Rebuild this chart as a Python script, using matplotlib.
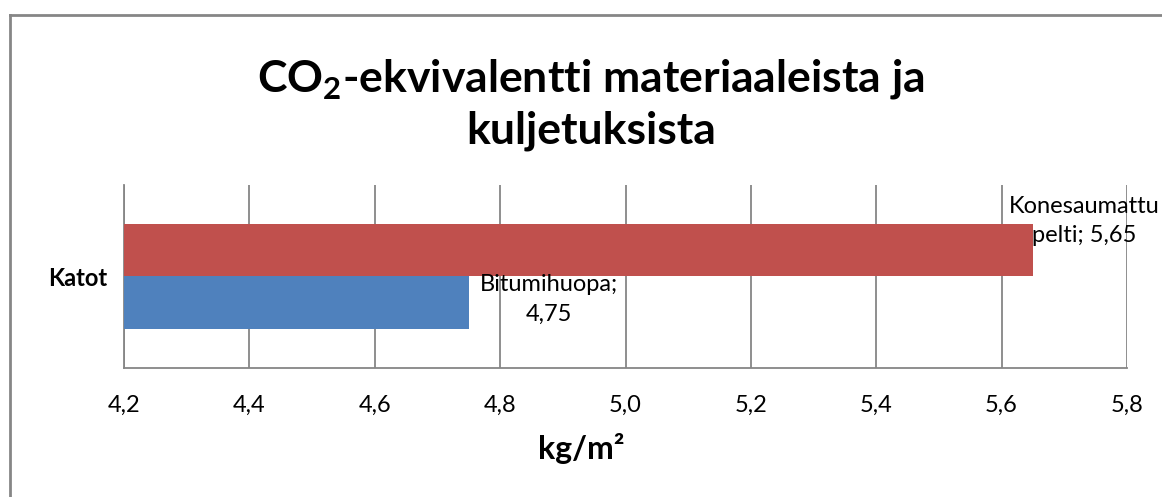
import matplotlib.pyplot as plt
from matplotlib.lines import Line2D

# data
category = "Katot"
series_names = ["Bitumihuopa", "Konesaumattu pelti"]
series_values = [4.75, 5.65]
series_colors = ["#4F81BD", "#C0504D"]
xticks = [4.2, 4.4, 4.6, 4.8, 5.0, 5.2, 5.4, 5.6, 5.8]

plt.rcParams['font.family'] = ['Lato', 'DejaVu Sans']
plt.rcParams['mathtext.fontset'] = 'custom'
plt.rcParams['mathtext.rm'] = 'Lato'
plt.rcParams['mathtext.bf'] = 'Lato:bold'

W, H = 1162, 497
fig = plt.figure(figsize=(W / 100, H / 100), dpi=100)
ax = fig.add_axes([124 / W, 1 - 368 / H, (1127 - 124) / W, (368 - 185) / H])

bar_h = 0.286
offsets = [-bar_h / 2, bar_h / 2]  # blue below, red above
for name, val, col, off in zip(series_names, series_values, series_colors, offsets):
    ax.barh(off, val - 4.2, left=4.2, height=bar_h, color=col, zorder=3)

# data labels
ax.annotate("Bitumihuopa;\n4,75", xy=(series_values[0], offsets[0]),
            xytext=(58, 2.5), textcoords="offset points", ha="center", va="center",
            fontsize=17, linespacing=1.5, zorder=4)
ax.annotate("Konesaumattu\npelti; 5,65", xy=(series_values[1], offsets[1]),
            xytext=(37, 21), textcoords="offset points", ha="center", va="center",
            fontsize=17, linespacing=1.5, zorder=4, annotation_clip=False)

ax.set_xlim(xticks[0], xticks[-1])
ax.set_ylim(-0.5, 0.5)
ax.set_xticks(xticks)
ax.set_xticklabels([f"{t:.1f}".replace(".", ",") for t in xticks], fontsize=17)
ax.set_yticks([0])
ax.set_yticklabels([category], fontsize=17, fontweight="bold")
ax.tick_params(length=0, pad=19, axis="x")
ax.tick_params(length=0, pad=12, axis="y")
ax.grid(axis="x", color="#868686", linewidth=1.3, zorder=0)
for s in ["top", "right"]:
    ax.spines[s].set_visible(False)
for s in ["left", "bottom"]:
    ax.spines[s].set_color("#868686")
    ax.spines[s].set_linewidth(1.3)

fig.text(581 / W, 1 - 449 / H, "kg/m²", ha="center", va="center",
         fontsize=23, fontweight="bold")

fig.text(591 / W, 1 - 104 / H, "CO$_\\mathbf{2}$-ekvivalentti materiaaleista ja\nkuljetuksista",
         ha="center", va="center", fontsize=32, fontweight="bold", linespacing=1.3)

# outer chart border (only top and left visible)
fig.add_artist(Line2D([9.5 / W, 9.5 / W], [0, 1 - 14.5 / H],
                      transform=fig.transFigure, color="#868686", linewidth=2))
fig.add_artist(Line2D([9.5 / W, 1], [1 - 14.5 / H, 1 - 14.5 / H],
                      transform=fig.transFigure, color="#868686", linewidth=2))

fig.savefig("out.png", dpi=100)
